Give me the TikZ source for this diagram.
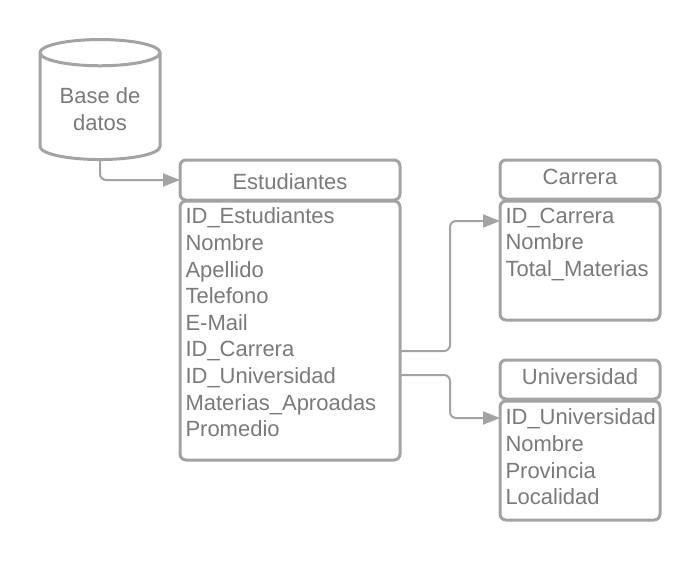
\documentclass[tikz,border=0pt]{standalone}
\usepackage{fontspec}
\setmainfont{Liberation Sans}
\usetikzlibrary{positioning,arrows.meta,shapes.geometric}

\definecolor{linea}{HTML}{A3A3A3}
\definecolor{texto}{HTML}{7A7A7A}

\tikzset{
	caja/.style={draw=linea, line width=3pt, rounded corners=6pt, outer sep=0pt, inner sep=0pt},
	titulo/.style={text=texto, font=\fontsize{22}{26}\selectfont, text height=16pt, text depth=6pt},
	campos/.style={text=texto, font=\fontsize{22}{26.6}\selectfont, align=left, anchor=north west, inner sep=0pt, outer sep=0pt},
	conector/.style={draw=linea, line width=2pt, rounded corners=6pt, -{Triangle[length=17pt,width=13pt]}}
}

\begin{document}
\begin{tikzpicture}[x=1pt,y=-1pt]
		
		\useasboundingbox[fill=white] (0,0) rectangle (700,560);
		
		% Draw the database
		\node[cylinder, shape border rotate=90, shape aspect=0.3, draw=linea, line width=3pt, outer sep=0pt, minimum width=120pt, minimum height=120pt, align=center, text=texto, font=\fontsize{22}{26.6}\selectfont, text height=44pt, text depth=1pt] (baseDatos) at (100,109) {Base de\\datos};
		
		% Draw the boxes
		\node[caja, titulo, text height=20pt, text depth=1pt, minimum width=220pt, minimum height=40pt] (estudiantesTitulo) at (290,180) {Estudiantes};
		\node[caja, minimum width=220pt, minimum height=259pt] (estudiantesCuerpo) at (290,330.5) {};
		\node[caja, titulo, minimum width=160pt, minimum height=39pt] (carreraTitulo) at (580,179.5) {Carrera};
		\node[caja, minimum width=160pt, minimum height=119pt] (carreraCuerpo) at (580,260.5) {};
		\node[caja, titulo, minimum width=160pt, minimum height=39pt] (universidadTitulo) at (580,379.5) {Universidad};
		\node[caja, minimum width=160pt, minimum height=119pt] (universidadCuerpo) at (580,460.5) {};
		
		% Place the fields
		\node[campos] (estudiantesCampos) at (185.5,208) {ID\_Estudiantes\\Nombre\\Apellido\\Telefono\\E-Mail\\ID\_Carrera\\ID\_Universidad\\Materias\_Aproadas\\Promedio};
		\node[campos] (carreraCampos) at (505.5,208) {ID\_Carrera\\Nombre\\Total\_Materias};
		\node[campos] (universidadCampos) at (505.5,409) {ID\_Universidad\\Nombre\\Provincia\\Localidad};
		
		% Draw the connectors
		\coordinate (salidaCarrera) at (400,351);
		\coordinate (entradaCarrera) at (500,221);
		\coordinate (salidaUniversidad) at (400,375);
		\coordinate (entradaUniversidad) at (500,418);
		\draw[conector] (baseDatos.south) |- (estudiantesTitulo.west);
		\draw[conector] (salidaCarrera) -| (450,221) -- (entradaCarrera);
		\draw[conector] (salidaUniversidad) -| (450,418) -- (entradaUniversidad);
		
	\end{tikzpicture}
\end{document}
